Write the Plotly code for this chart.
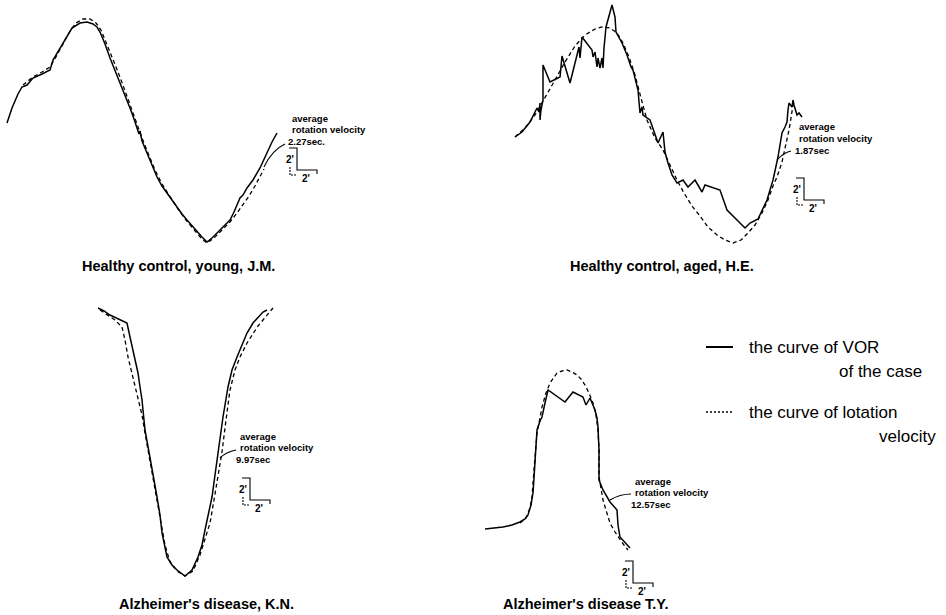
import plotly.graph_objects as go

# ---------------- data (figure units) ----------------
# Panel 1: Healthy control, young, J.M.
p1_vor_x = [7, 12, 18, 22, 27, 33, 42, 50, 53, 60, 67, 72, 80, 87, 93, 97, 100, 105, 110, 115, 120, 128, 133, 138, 139, 140,
            142, 147, 152, 157, 162, 167, 172, 177, 182, 187, 192, 197, 202, 207, 212, 220, 225, 230, 234, 238, 240, 243,
            247, 253, 260, 266, 272, 277]
p1_vor_y = [123, 108, 94, 87, 85, 78, 74, 70, 60, 48, 37, 28, 23, 22, 24, 27, 32, 44, 58, 70, 83, 103, 116, 130, 134, 131,
            141, 153, 165, 177, 186, 193, 201, 208, 214, 220, 226, 232, 237, 242, 238, 230, 225, 220, 212, 203, 198, 195,
            188, 180, 168, 155, 142, 133]
p1_rot_x = [23, 33, 42, 50, 57, 64, 70, 76, 83, 90, 96, 101, 106, 112, 118, 124, 130, 136, 142, 148, 155, 162, 170, 178,
            186, 194, 201, 207, 214, 222, 230, 237, 243, 249, 255, 260, 264]
p1_rot_y = [85, 77, 72, 67, 55, 42, 31, 23, 19, 19, 23, 30, 42, 57, 72, 88, 105, 122, 138, 153, 170, 184, 197, 209,
            220, 230, 238, 243, 238, 230, 222, 213, 205, 196, 186, 177, 169]

# Panel 2: Healthy control, aged, H.E.
p2_vor_x = [515, 522, 530, 537, 539, 540, 540, 541, 543, 543, 550, 560, 562, 570, 579, 580, 582, 592, 593, 595, 597, 598,
            600, 602, 603, 604, 606, 610, 612, 615, 616, 622, 627, 631, 633, 638, 640, 642, 643, 650, 655, 658, 663, 665,
            668, 672, 677, 683, 688, 695, 702, 705, 720, 727, 737, 745, 750, 758, 767, 773, 778, 782, 785, 787, 788, 789,
            792, 793, 794, 797, 799, 802]
p2_vor_y = [137, 132, 122, 108, 112, 103, 120, 110, 100, 65, 82, 77, 56, 83, 47, 58, 37, 50, 57, 52, 67, 58,
            68, 58, 68, 48, 27, 13, 5, 17, 32, 43, 55, 67, 70, 90, 113, 107, 115, 120, 135, 143, 132, 152,
            163, 175, 183, 180, 187, 180, 192, 185, 190, 210, 220, 228, 223, 219, 200, 180, 157, 133, 127, 122, 110, 103,
            107, 100, 105, 115, 113, 117]
p2_rot_x = [515, 525, 535, 545, 555, 565, 575, 585, 595, 602, 610, 617, 623, 629, 635, 641, 647, 655, 663, 670, 677, 684,
            692, 700, 708, 717, 725, 733, 741, 748, 755, 762, 768, 773, 777, 782, 786, 789, 791, 793]
p2_rot_y = [137, 128, 115, 98, 80, 62, 46, 35, 29, 27, 28, 33, 43, 57, 75, 98, 120, 138, 150, 165, 180, 193,
            206, 216, 227, 235, 240, 243, 240, 233, 225, 213, 200, 186, 177, 162, 145, 130, 118, 105]

# Panel 3: Alzheimer's disease, K.N.
p3_vor_x = [98, 104, 110, 118, 127, 130, 133, 136, 138, 140, 142, 145, 150, 154, 157, 160, 162, 167, 172, 177, 185, 192,
            198, 202, 205, 209, 212, 215, 218, 221, 223, 228, 232, 237, 242, 247, 253, 258, 263, 267]
p3_vor_y = [308, 311, 315, 319, 323, 337, 350, 362, 373, 387, 400, 430, 460, 480, 497, 515, 533, 557, 565, 570, 576, 570,
            557, 545, 530, 513, 497, 475, 453, 435, 417, 387, 370, 357, 345, 333, 323, 317, 312, 310]
p3_rot_x = [100, 108, 115, 122, 125, 128, 133, 138, 142, 145, 150, 155, 160, 165, 170, 177, 185, 193, 200, 205, 210, 214,
            218, 222, 226, 230, 235, 240, 247, 253, 258, 263, 268, 273]
p3_rot_y = [310, 315, 320, 327, 340, 357, 377, 397, 415, 433, 462, 490, 518, 545, 562, 571, 576, 571, 555, 540, 523, 500,
            477, 452, 420, 390, 370, 357, 343, 333, 326, 320, 314, 308]

# Panel 4: Alzheimer's disease T.Y.
p4_vor_x = [485, 495, 503, 512, 520, 525, 528, 531, 533, 534, 535, 536, 537, 540, 542, 545, 548, 565, 573, 583, 586, 590,
            595, 597, 598, 599, 599, 603, 610, 617, 618, 620, 625, 630]
p4_vor_y = [529, 528, 527, 525, 522, 519, 515, 505, 493, 478, 463, 445, 430, 421, 417, 403, 390, 402, 392, 397, 405, 398,
            410, 418, 427, 450, 480, 490, 502, 510, 525, 537, 542, 548]
p4_rot_x = [520, 526, 530, 532, 534, 537, 540, 542, 546, 550, 557, 562, 567, 572, 577, 581, 585, 589, 593, 596, 598, 599,
            599, 601, 603, 606, 610, 615, 620, 624, 628]
p4_rot_y = [523, 518, 508, 497, 470, 433, 418, 407, 393, 383, 373, 371, 370, 372, 375, 379, 385, 393, 403, 415, 430, 450,
            477, 490, 500, 510, 523, 532, 540, 545, 550]

titles = ["Healthy control, young, J.M.", "Healthy control, aged, H.E.",
          "Alzheimer's disease, K.N.", "Alzheimer's disease T.Y."]
velocities = ["2.27sec.", "1.87sec", "9.97sec", "12.57sec"]
legend_labels = [("the curve of VOR", "of the case"), ("the curve of lotation", "velocity")]

# ---------------- figure ----------------
fig = go.Figure()
SOLID = dict(color="black", width=1.5)
DASH = dict(color="black", width=1.3, dash="4px,3px")

for vx, vy, rx, ry in [(p1_vor_x, p1_vor_y, p1_rot_x, p1_rot_y),
                       (p2_vor_x, p2_vor_y, p2_rot_x, p2_rot_y),
                       (p3_vor_x, p3_vor_y, p3_rot_x, p3_rot_y),
                       (p4_vor_x, p4_vor_y, p4_rot_x, p4_rot_y)]:
    fig.add_trace(go.Scatter(x=rx, y=ry, mode="lines", line=DASH, hoverinfo="skip", showlegend=False))
    fig.add_trace(go.Scatter(x=vx, y=vy, mode="lines", line=SOLID, hoverinfo="skip", showlegend=False))

ann = []
SMALL = dict(family="Liberation Sans, Arial, sans-serif", size=9.5, color="black", weight="bold")
TITLE = dict(family="Liberation Sans, Arial, sans-serif", size=14.5, color="black", weight="bold")
LEG = dict(family="Liberation Sans, Arial, sans-serif", size=17, color="black")


def txt(x, y, s, font, xanchor="left"):
    ann.append(dict(x=x, y=y, xref="x", yref="y", text=s, showarrow=False, font=font,
                    xanchor=xanchor, yanchor="middle"))


# titles
title_pos = [(178, 266), (662, 266), (206, 604), (585, 604)]
for (tx, ty), t in zip(title_pos, titles):
    txt(tx, ty, t, TITLE, "center")

# small annotations: (x, y of first line, line gap)
note_pos = [(290, 118, 11.5), (797, 126, 12), (238, 436, 11.5), (633, 481, 11.5)]
for (nx, ny, gap), v in zip(note_pos, velocities):
    txt(nx, ny, "average", SMALL)
    txt(nx, ny + gap, "rotation velocity", SMALL)
    txt(nx - 4, ny + 2 * gap, v, SMALL)

shapes = []
LW = dict(color="black", width=1.1)


def path(p, dash=None):
    line = dict(LW)
    if dash:
        line["dash"] = dash
    shapes.append(dict(type="path", path=p, xref="x", yref="y", line=line))


# leader lines
path("M 285,144 Q 272,150 264,167")
path("M 791,151 Q 783,153 777,160")
path("M 236,450 Q 226,452 220,458")
path("M 631,494 Q 620,494 610,500")

# scale bars (2' x 2')
scale_pos = [(297, 148), (804, 178), (250, 478), (633, 561)]
for sx, sy in scale_pos:
    path(f"M {sx-8},{sy} L {sx},{sy} L {sx},{sy+22} L {sx+20},{sy+22} L {sx+20},{sy+26}")
    path(f"M {sx-7},{sy+19} L {sx-7},{sy+27} L {sx-1},{sy+27}", dash="2px,1px")
    txt(sx - 7, sy + 11, "2'", dict(SMALL, size=10), "center")
    txt(sx + 9, sy + 30, "2'", dict(SMALL, size=10), "center")

# legend
shapes.append(dict(type="line", xref="x", yref="y", x0=706, x1=733, y0=347, y1=347, line=dict(color="black", width=2)))
shapes.append(dict(type="line", xref="x", yref="y", x0=706, x1=734, y0=412, y1=412,
                   line=dict(color="black", width=1.3, dash="2px,2px")))
txt(747, 347, legend_labels[0][0], LEG)
txt(924, 371, legend_labels[0][1], LEG, "right")
txt(747, 412, legend_labels[1][0], LEG)
txt(938, 436, legend_labels[1][1], LEG, "right")

fig.update_layout(
    width=946, height=615,
    margin=dict(l=0, r=0, t=0, b=0),
    paper_bgcolor="white", plot_bgcolor="white",
    xaxis=dict(range=[0, 946], visible=False, fixedrange=True, domain=[0, 1]),
    yaxis=dict(range=[615, 0], visible=False, fixedrange=True, domain=[0, 1]),
    annotations=ann, shapes=shapes, showlegend=False,
)

fig.write_html("out.html", config={"displayModeBar": False})
